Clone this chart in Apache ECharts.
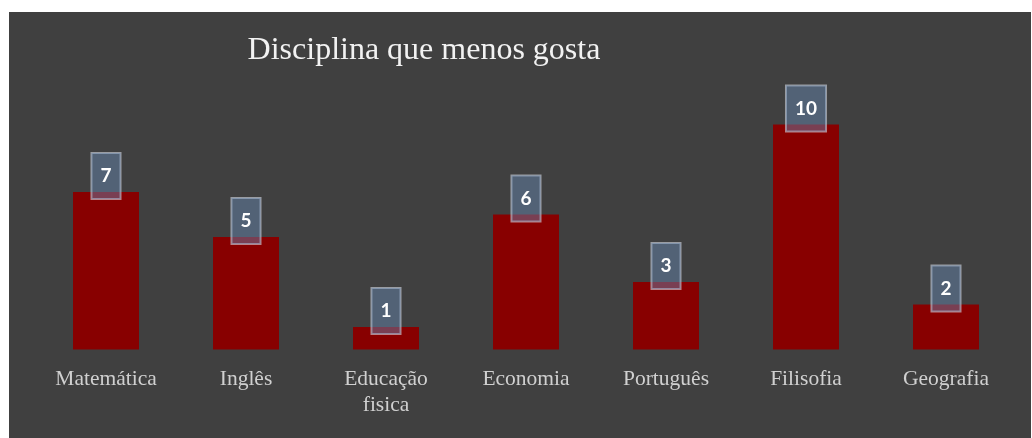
<!DOCTYPE html>
<html>
<head>
<meta charset="utf-8">
<script src="https://cdn.jsdelivr.net/npm/echarts@6/dist/echarts.min.js"></script>
<style>
html,body{margin:0;padding:0;background:#ffffff;width:1032px;height:438px;overflow:hidden;}
#chart{position:absolute;left:9px;top:12px;width:1022px;height:426px;}
</style>
</head>
<body>
<div id="chart"></div>
<script>
const titleText = 'Disciplina que menos gosta';
const categories = ['Matemática', 'Inglês', 'Educação\nfisica', 'Economia', 'Português', 'Filisofia', 'Geografia'];
const values = [7, 5, 1, 6, 3, 10, 2];

const chart = echarts.init(document.getElementById('chart'), null, {renderer: 'canvas'});
chart.setOption({
  backgroundColor: '#404040',
  animation: false,
  title: {
    text: titleText,
    left: 410,
    top: 18,
    textAlign: 'center',
    textStyle: {
      color: '#f2f2f2',
      fontFamily: '"Liberation Serif", "Times New Roman", serif',
      fontWeight: 'normal',
      fontSize: 32
    }
  },
  grid: {left: 27, right: 15, top: 112.5, bottom: 88.5, containLabel: false},
  xAxis: {
    type: 'category',
    data: categories,
    axisLine: {show: false},
    axisTick: {show: false},
    axisLabel: {
      color: '#d0d0d0',
      fontFamily: '"Liberation Serif", "Times New Roman", serif',
      fontSize: 21.5,
      lineHeight: 26,
      margin: 17,
      interval: 0
    }
  },
  yAxis: {
    type: 'value',
    min: 0,
    max: 10,
    show: false,
    splitLine: {show: false}
  },
  series: [{
    type: 'bar',
    data: values,
    barWidth: 66,
    itemStyle: {color: '#880000'},
    label: {
      show: true,
      position: 'top',
      distance: -7,
      color: '#ffffff',
      fontFamily: 'Lato, "Open Sans", sans-serif',
      fontWeight: 'bold',
      fontSize: 19,
      lineHeight: 20,
      padding: [13, 9, 13, 9],
      backgroundColor: 'rgba(105,140,185,0.45)',
      borderColor: 'rgba(215,220,230,0.6)',
      borderWidth: 1
    }
  }]
});
</script>
</body>
</html>
